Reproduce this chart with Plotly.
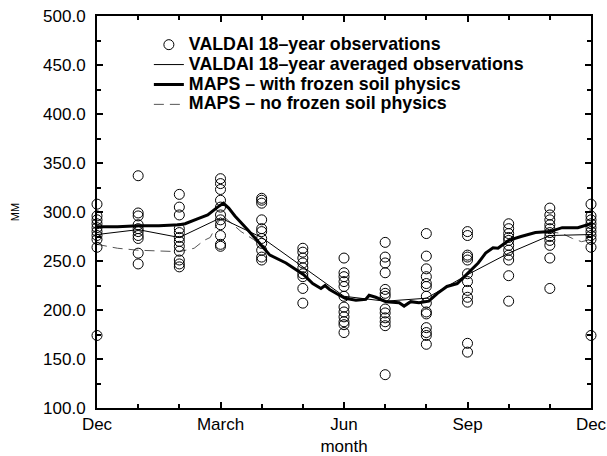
import plotly.graph_objects as go

# month index: 0=Dec, 3=March, 6=Jun, 9=Sep, 12=Dec
obs = {
    0: [308, 296, 292, 288, 284, 280, 276, 272, 264, 174],
    1: [337, 299, 296, 287, 283, 280, 276, 273, 258, 247],
    2: [318, 305, 297, 283, 279, 274, 270, 265, 260, 251, 247, 244],
    3: [334, 329, 323, 312, 305, 297, 292, 287, 276, 267, 265],
    4: [314, 312, 309, 292, 283, 280, 273, 268, 261, 254, 251],
    5: [263, 259, 253, 248, 243, 237, 234, 222, 207],
    6: [253, 238, 234, 229, 224, 214, 203, 198, 193, 188, 185, 177],
    7: [269, 254, 248, 238, 221, 217, 214, 201, 197, 192, 188, 184, 134],
    8: [278, 255, 242, 234, 227, 224, 214, 207, 198, 196, 182, 177, 174, 165],
    9: [280, 276, 256, 254, 251, 237, 229, 220, 213, 208, 166, 157],
    10: [288, 283, 278, 274, 271, 266, 261, 256, 251, 235, 209],
    11: [304, 297, 292, 287, 283, 279, 275, 271, 266, 253, 222],
    12: [308, 296, 292, 288, 284, 280, 276, 272, 264, 174],
}

avg_month = list(range(13))
avg_vals = [277, 282, 274, 294, 274, 244, 214, 209, 212, 236, 258, 276, 277]

frozen_m = [0, 0.5, 1, 1.5, 2, 2.14, 2.44, 2.69, 2.93, 3.07, 3.2, 3.35, 3.66, 3.98,
            4.2, 4.59, 5.02, 5.24, 5.44, 5.54, 5.65, 5.89, 6.03, 6.29, 6.53, 6.61,
            6.77, 7.02, 7.34, 7.46, 7.62, 7.82, 8.06, 8.27, 8.5, 8.75, 9.0, 9.26,
            9.44, 9.62, 9.74, 10.0, 10.3, 10.65, 11.0, 11.3, 11.68, 11.9, 12]
frozen_v = [285, 285, 286, 286, 287, 288, 293, 297, 305, 309, 304, 296, 282, 266,
            256, 248, 236, 227, 222, 225, 221, 215, 212, 210, 211, 215,
            213, 208.5, 207.5, 204, 208.5, 207.5, 209, 217, 224, 227, 237, 248,
            258, 263.5, 263, 271, 275, 279, 280, 284, 284, 286.5, 288]

nofrz_m = [0, 0.5, 1, 1.5, 2, 2.36, 2.6, 2.75, 2.95, 3.05, 3.2, 3.5, 3.8, 3.98,
           4.2, 4.59, 5.02, 5.24, 5.44, 5.54, 5.65, 5.89, 6.03, 6.29, 6.53, 6.61,
           6.77, 7.02, 7.34, 7.46, 7.62, 7.82, 8.06, 8.27, 8.5, 8.75, 9.0, 9.26,
           9.44, 9.62, 9.74, 10.0, 10.3, 10.65, 11.0, 11.3, 11.55, 11.77, 12]
nofrz_v = [267, 263, 261, 260, 259.5, 263, 271, 274, 290, 296, 291, 280, 272, 266,
           256, 248, 236, 227, 222, 225, 221, 215, 212, 210, 211, 215,
           213, 208.5, 207.5, 204, 208.5, 207.5, 209, 217, 224, 227, 237, 248,
           258, 263.5, 263, 271, 275, 279, 280, 278, 273, 269.7, 272]

tick_vals = [0, 3, 6, 9, 12]
tick_text = ["Dec", "March", "Jun", "Sep", "Dec"]
y_ticks = [100, 150, 200, 250, 300, 350, 400, 450, 500]
y_text = ["100.0", "150.0", "200.0", "250.0", "300.0", "350.0", "400.0", "450.0", "500.0"]

names = ["VALDAI 18\u2013year observations",
         "VALDAI 18\u2013year averaged observations",
         "MAPS \u2013 with frozen soil physics",
         "MAPS \u2013 no frozen soil physics"]


def lg(s):
    return '<span style="font-size:17.8px"><b>' + s + '</b></span>'


obs_x, obs_y = [], []
for m, vals in obs.items():
    obs_x += [m] * len(vals)
    obs_y += vals

fig = go.Figure()
fig.add_trace(go.Scatter(x=nofrz_m, y=nofrz_v, mode="lines",
                         line=dict(color="#555555", width=1, dash="10px,6px"),
                         name=lg(names[3]), legendrank=4))
fig.add_trace(go.Scatter(x=avg_month, y=avg_vals, mode="lines",
                         line=dict(color="black", width=1),
                         name=lg(names[1]), legendrank=2))
fig.add_trace(go.Scatter(x=frozen_m, y=frozen_v, mode="lines",
                         line=dict(color="black", width=3),
                         name=lg(names[2]), legendrank=3))
fig.add_trace(go.Scatter(x=obs_x, y=obs_y, mode="markers", cliponaxis=False,
                         marker=dict(symbol="circle-open", size=10, color="black",
                                     line=dict(width=1, color="black")),
                         name=lg(names[0]), legendrank=1))

fig.update_layout(
    width=607, height=456,
    margin=dict(l=97, r=16, t=16, b=48, autoexpand=False),
    paper_bgcolor="white", plot_bgcolor="white",
    font=dict(family="Liberation Sans, Arial, sans-serif", color="black", size=13),
    showlegend=True,
    legend=dict(x=0.105, y=0.965, xanchor="left", yanchor="top",
                bgcolor="rgba(0,0,0,0)", tracegroupgap=0,
                font=dict(size=13, family="Liberation Sans, Arial, sans-serif")),
    xaxis=dict(range=[0, 12], tickvals=tick_vals, ticktext=tick_text,
               ticks="inside", ticklen=6, tickwidth=1.5, tickcolor="black",
               showline=True, linecolor="black", linewidth=2, mirror="allticks",
               showgrid=False, zeroline=False, automargin=False,
               minor=dict(dtick=1, tick0=0, ticks="inside", ticklen=4, tickwidth=1.5,
                          tickcolor="black", showgrid=False),
               title=dict(text="month", font=dict(size=17)),
               tickfont=dict(size=17)),
    yaxis=dict(range=[100, 500], tickvals=y_ticks, ticktext=y_text,
               ticks="inside", ticklen=6, tickwidth=1.5, tickcolor="black",
               showline=True, linecolor="black", linewidth=2, mirror="allticks",
               showgrid=False, zeroline=False, automargin=False,
               ticklabelstandoff=6,
               minor=dict(dtick=25, tick0=100, ticks="inside", ticklen=4, tickwidth=1.5,
                          tickcolor="black", showgrid=False),
               title=dict(text="MM", font=dict(size=11), standoff=21),
               tickfont=dict(size=17)),
)

fig.write_html("out.html")
